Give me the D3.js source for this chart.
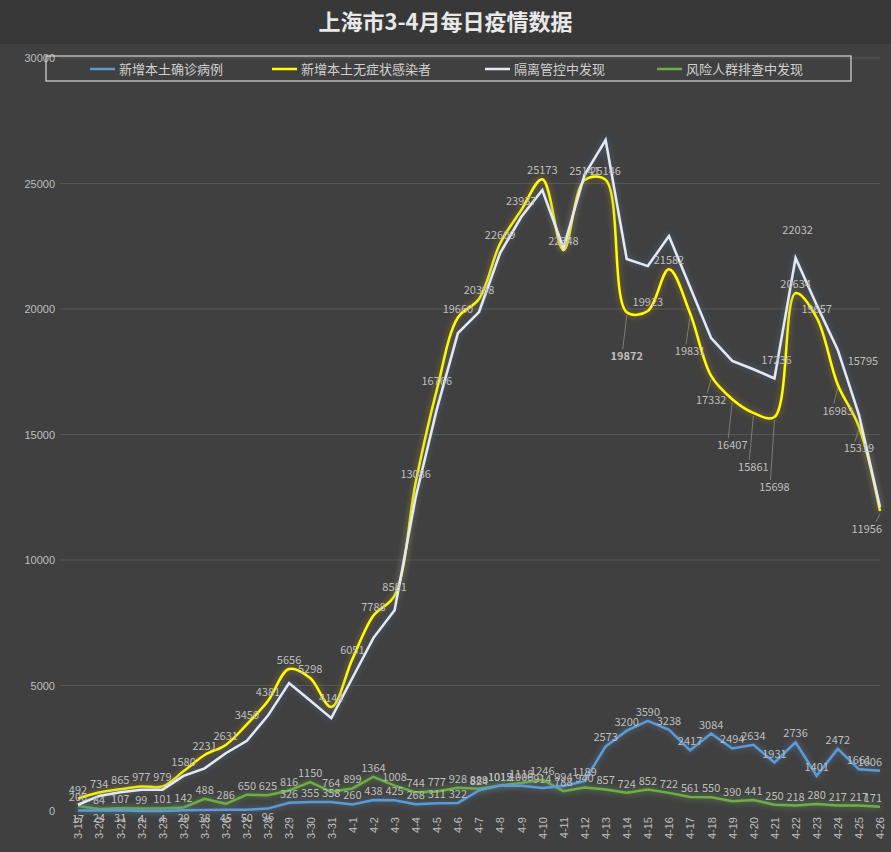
<!DOCTYPE html>
<html><head><meta charset="utf-8">
<script src="https://cdn.jsdelivr.net/npm/d3@7"></script>
<style>
body{margin:0;background:#404040;font-family:"Noto Sans CJK SC","Noto Sans",sans-serif;}
</style></head>
<body><div id="chart"></div>
<script>
// dates 3-19 .. 4-26
const dates = ["3-19","3-20","3-21","3-22","3-23","3-24","3-25","3-26","3-27","3-28","3-29","3-30","3-31",
  "4-1","4-2","4-3","4-4","4-5","4-6","4-7","4-8","4-9","4-10","4-11","4-12","4-13","4-14","4-15","4-16",
  "4-17","4-18","4-19","4-20","4-21","4-22","4-23","4-24","4-25","4-26"];
const confirmed = [17,24,31,4,4,29,38,45,50,96,326,355,358,260,438,425,268,311,322,824,1015,1006,914,994,1189,
  2573,3200,3590,3238,2417,3084,2494,2634,1931,2736,1401,2472,1661,1606];
const asymptomatic = [492,734,865,977,979,1580,2231,2631,3450,4381,5656,5298,4144,6051,7788,8581,13086,16766,19660,
  20398,22609,23937,25173,22348,25141,25146,19872,19923,21582,19831,17332,16407,15861,15698,20634,19657,16983,15319,11956];
const quarantine = [250,600,750,850,850,1400,1700,2300,2800,3800,5100,4400,3700,5300,6900,8000,12500,16000,19040,
  19880,22230,23665,24740,22430,25340,26730,21990,21710,22910,20880,18840,17930,17600,17236,22032,20160,18370,15795,12110];
const screening = [200,84,107,99,101,142,488,286,650,625,816,1150,764,899,1364,1008,744,777,928,889,1012,1118,1246,
  788,940,857,724,852,722,561,550,390,441,250,218,280,217,217,171];
const yTicks = [0,5000,10000,15000,20000,25000,30000];

const W = 891, H = 852;
const margin = {top: 58, right: 11, bottom: 41, left: 78};
const svg = d3.select("#chart").append("svg").attr("width", W).attr("height", H);
svg.append("rect").attr("width", W).attr("height", H).attr("fill", "#404040");
svg.append("rect").attr("width", W).attr("height", 44).attr("fill", "#383838");

const x = d3.scalePoint(dates, [margin.left, W - margin.right]);
const y = d3.scaleLinear([0, 30000], [H - margin.bottom, margin.top]);

// glow filters
const defs = svg.append("defs");
function glow(id, color) {
  const f = defs.append("filter").attr("id", id).attr("x", "-20%").attr("y", "-20%").attr("width", "140%").attr("height", "140%");
  f.append("feGaussianBlur").attr("in", "SourceAlpha").attr("stdDeviation", 3).attr("result", "b");
  f.append("feFlood").attr("flood-color", color).attr("flood-opacity", 0.8);
  f.append("feComposite").attr("in2", "b").attr("operator", "in").attr("result", "g");
  const m = f.append("feMerge");
  m.append("feMergeNode").attr("in", "g");
  m.append("feMergeNode").attr("in", "SourceGraphic");
}
glow("gBlue", "#5b7fb0"); glow("gYellow", "#b8862c"); glow("gWhite", "#4f6f9a"); glow("gGreen", "#6aa84f");

svg.append("text").attr("x", W / 2).attr("y", 30).attr("text-anchor", "middle")
  .attr("fill", "#e8e8e8").style("font-size", "22px").style("font-weight", 700)
  .text("上海市3-4月每日疫情数据");

// grid + y axis
svg.append("g").selectAll("line").data(yTicks.slice(1)).join("line")
  .attr("x1", margin.left - 18).attr("x2", W - margin.right)
  .attr("y1", d => y(d)).attr("y2", d => y(d)).attr("stroke", "#575757");
svg.append("g").attr("transform", `translate(${margin.left - 20},0)`)
  .call(d3.axisLeft(y).tickValues(yTicks).tickSize(0).tickFormat(d3.format("d")))
  .call(g => g.select(".domain").remove())
  .call(g => g.selectAll("text").attr("fill", "#bfbfbf").style("font-size", "11px"));

// x axis
svg.append("g").attr("transform", `translate(0,${H - margin.bottom + 4})`)
  .call(d3.axisBottom(x).tickSize(0))
  .call(g => g.select(".domain").remove())
  .call(g => g.selectAll("text").attr("fill", "#bfbfbf").style("font-size", "11px")
    .attr("transform", "rotate(-90)").attr("text-anchor", "end").attr("x", -2).attr("y", 0).attr("dy", "0.35em"));

const series = [
  {name: "新增本土确诊病例", vals: confirmed, color: "#5b9bd5", f: "gBlue", curve: d3.curveLinear},
  {name: "新增本土无症状感染者", vals: asymptomatic, color: "#ffff00", f: "gYellow", curve: d3.curveCatmullRom},
  {name: "隔离管控中发现", vals: quarantine, color: "#e6e9f2", f: "gWhite", curve: d3.curveLinear},
  {name: "风险人群排查中发现", vals: screening, color: "#70ad47", f: "gGreen", curve: d3.curveLinear},
];
[3, 0, 1, 2].forEach(i => {
  const s = series[i];
  const line = d3.line().x((d, j) => x(dates[j])).y(d => y(d)).curve(s.curve);
  svg.append("path").attr("d", line(s.vals)).attr("fill", "none")
    .attr("stroke", s.color).attr("stroke-width", 2.5).attr("filter", `url(#${s.f})`);
});

// data labels; some asymptomatic labels sit below the line with a leader
const below = {26: 48, 29: 42, 30: 28, 31: 50, 32: 58, 33: 74, 36: 30, 37: 26, 38: 22};
const lab = svg.append("g").attr("fill", "#bfbfbf").style("font-size", "11px");
function addLabels(vals, dyFn, si) {
  vals.forEach((d, j) => {
    const px = x(dates[j]), py = y(d);
    const dy = dyFn(d, j);
    const last = j === vals.length - 1;
    if (Math.abs(dy) > 20) {
      lab.append("line").attr("x1", px).attr("y1", py + 3).attr("x2", px - 4).attr("y2", py + dy - 11)
        .attr("stroke", "#8a8a8a").attr("stroke-width", 0.8);
    }
    lab.append("text").attr("x", last ? px + 2 : px).attr("y", py + dy)
      .attr("text-anchor", last ? "end" : "middle")
      .style("font-weight", si === 1 && j === 26 ? 700 : 400)
      .text(d);
  });
}
addLabels(confirmed, (d, j) => j < 10 ? 12 : -5, 0);
addLabels(asymptomatic, (d, j) => below[j] !== undefined ? below[j] : -5, 1);
addLabels(screening, (d, j) => -5, 3);
const qLab = [33, 34, 37];
const qOff = {33: -14, 34: -24, 37: -50};
qLab.forEach(j => {
  lab.append("text").attr("x", x(dates[j]) + (j === 37 ? 4 : 2)).attr("y", y(quarantine[j]) + qOff[j])
    .attr("text-anchor", "middle").text(quarantine[j]);
});

// legend
const lg = svg.append("g");
lg.append("rect").attr("x", 46).attr("y", 56).attr("width", 805).attr("height", 25)
  .attr("fill", "none").attr("stroke", "#d9d9d9").attr("stroke-width", 1.2);
const lx = [90, 272, 485, 657];
series.forEach((s, i) => {
  lg.append("line").attr("x1", lx[i]).attr("x2", lx[i] + 25).attr("y1", 69).attr("y2", 69)
    .attr("stroke", s.color).attr("stroke-width", 2.5);
  lg.append("text").attr("x", lx[i] + 29).attr("y", 73.5).attr("fill", "#d0d0d0")
    .style("font-size", "13px").text(s.name);
});
</script></body></html>
